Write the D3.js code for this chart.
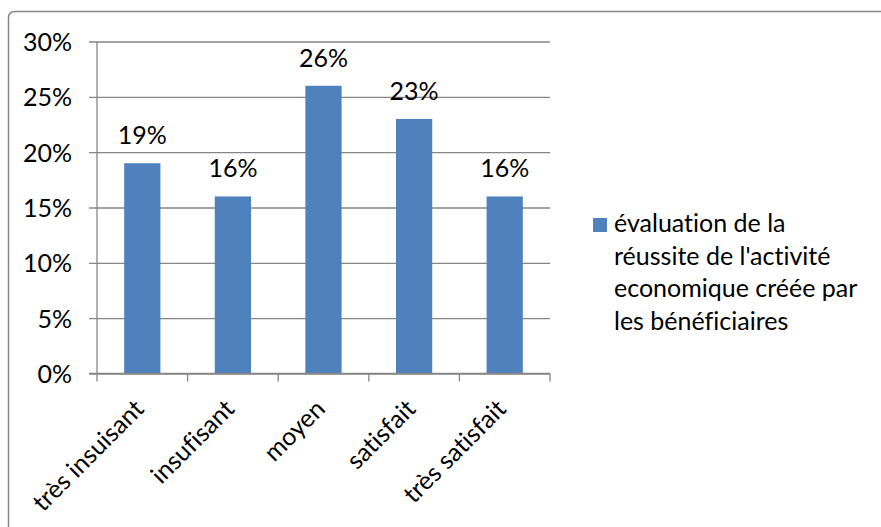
<!DOCTYPE html>
<html>
<head>
<meta charset="utf-8">
<script src="https://cdn.jsdelivr.net/npm/d3@7"></script>
<style>
  body { margin: 0; background: #fff; }
  svg { display: block; }
  text { font-family: Lato, "Open Sans", sans-serif; fill: #000; font-variant-ligatures: none; }
</style>
</head>
<body>
<svg id="chart"></svg>
<script>
// categories and values
var categories = ["très insuisant", "insufisant", "moyen", "satisfait", "très satisfait"];
var values = [0.19, 0.16, 0.26, 0.23, 0.16];
var yTicks = [0, 0.05, 0.10, 0.15, 0.20, 0.25, 0.30];
var legendLines = ["évaluation de la", "réussite de l'activité", "economique créée par", "les bénéficiaires"];

var width = 881, height = 527;
var fontSize = 25;

var svg = d3.select("#chart")
    .attr("width", width)
    .attr("height", height);

// outer chart frame (cut off at right and bottom)
svg.append("path")
    .attr("d", "M8.5,540 L8.5,18 Q8.5,11.5 15,11.5 L900,11.5")
    .attr("fill", "none")
    .attr("stroke", "#868686")
    .attr("stroke-width", 1.5);

var plot = { left: 97, right: 550, top: 41.5, bottom: 373.5 };

var x = d3.scaleBand()
    .domain(categories)
    .range([plot.left, plot.right])
    .paddingInner(0.6)
    .paddingOuter(0.3);

var xEdge = d3.scaleBand()
    .domain(categories)
    .range([plot.left, plot.right]);

var y = d3.scaleLinear()
    .domain([0, 0.30])
    .range([plot.bottom, plot.top]);

// gridlines + y axis
var yAxis = d3.axisLeft(y)
    .tickValues(yTicks)
    .tickFormat(d3.format(".0%"))
    .tickSize(-(plot.right - plot.left))
    .tickPadding(25);

var gy = svg.append("g")
    .attr("transform", "translate(" + plot.left + ",0)")
    .call(yAxis);
gy.select(".domain").remove();
gy.selectAll(".tick line")
    .attr("x1", -8)
    .attr("stroke", "#868686")
    .attr("stroke-width", 1.3);
gy.selectAll(".tick text")
    .attr("font-size", fontSize)
    .attr("font-family", "Lato, 'Open Sans', sans-serif")
    .attr("fill", "#000")
    .attr("dy", "0.36em");

// left axis line
svg.append("line")
    .attr("x1", plot.left).attr("x2", plot.left)
    .attr("y1", plot.top).attr("y2", plot.bottom)
    .attr("stroke", "#868686")
    .attr("stroke-width", 1.3);

// bars
svg.selectAll("rect.bar")
    .data(values)
    .join("rect")
    .attr("class", "bar")
    .attr("x", function(d, i) { return x(categories[i]); })
    .attr("width", x.bandwidth())
    .attr("y", function(d) { return y(d); })
    .attr("height", function(d) { return y(0) - y(d); })
    .attr("fill", "#4F81BD");

// value labels
svg.selectAll("text.val")
    .data(values)
    .join("text")
    .attr("class", "val")
    .attr("x", function(d, i) { return x(categories[i]) + x.bandwidth() / 2; })
    .attr("y", function(d) { return y(d) - 19; })
    .attr("text-anchor", "middle")
    .attr("font-size", fontSize)
    .text(function(d) { return d3.format(".0%")(d); });

// x axis line and ticks at category edges
svg.append("line")
    .attr("x1", plot.left - 8).attr("x2", plot.right)
    .attr("y1", plot.bottom).attr("y2", plot.bottom)
    .attr("stroke", "#868686")
    .attr("stroke-width", 1.3);

var edges = categories.map(function(c) { return xEdge(c); }).concat([plot.right]);
svg.selectAll("line.xtick")
    .data(edges)
    .join("line")
    .attr("class", "xtick")
    .attr("x1", function(d) { return d; }).attr("x2", function(d) { return d; })
    .attr("y1", plot.bottom).attr("y2", plot.bottom + 8)
    .attr("stroke", "#868686")
    .attr("stroke-width", 1.3);

// rotated category labels
svg.selectAll("text.cat")
    .data(categories)
    .join("text")
    .attr("class", "cat")
    .attr("text-anchor", "end")
    .attr("font-size", fontSize)
    .attr("transform", function(d) {
        var cx = xEdge(d) + xEdge.bandwidth() / 2 + 3;
        return "translate(" + cx + "," + (plot.bottom + 37) + ") rotate(-45)";
    })
    .text(function(d) { return d; });

// legend
var legend = svg.append("g").attr("transform", "translate(593,218)");
legend.append("rect")
    .attr("width", 14).attr("height", 14)
    .attr("fill", "#4F81BD");
legend.selectAll("text")
    .data(legendLines)
    .join("text")
    .attr("x", 21)
    .attr("y", function(d, i) { return 14 + i * 32.5; })
    .attr("font-size", fontSize)
    .text(function(d) { return d; });
</script>
</body>
</html>
